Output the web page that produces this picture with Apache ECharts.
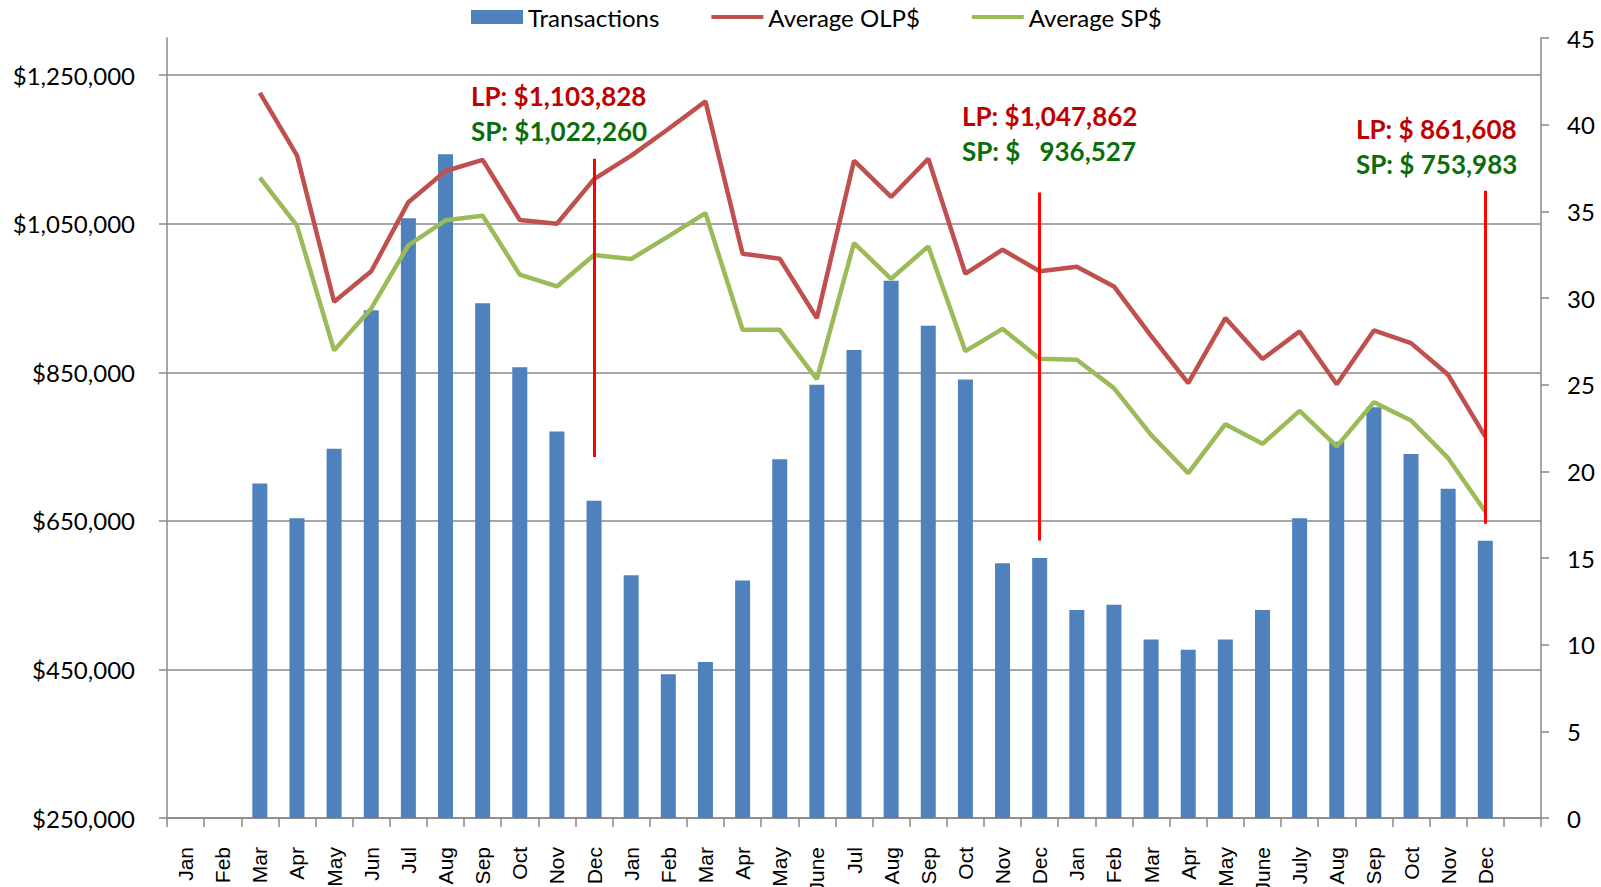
<!DOCTYPE html>
<html lang="en">
<head>
	<meta charset="UTF-8">
	<title>Transactions and average prices</title>
	<script type="text/javascript" src="https://cdn.jsdelivr.net/npm/echarts@6/dist/echarts.min.js"></script>
	<style>
		html, body { margin: 0; padding: 0; background: #fff; }
		#chart_show { width: 1601px; height: 887px; }
	</style>
</head>
<body>
	<div id="chart_show"></div>
	<script>
		// months, the last slot is left empty like in the original
		var months = ['Jan','Feb','Mar','Apr','May','Jun','Jul','Aug','Sep','Oct','Nov','Dec',
			'Jan','Feb','Mar','Apr','May','June','Jul','Aug','Sep','Oct','Nov','Dec',
			'Jan','Feb','Mar','Apr','May','June','July','Aug','Sep','Oct','Nov','Dec',''];

		var transactions = [null,null,19.3,17.3,21.3,29.3,34.6,38.3,29.7,26.0,22.3,18.3,
			14.0,8.3,9.0,13.7,20.7,25.0,27.0,31.0,28.4,25.3,14.7,15.0,
			12.0,12.3,10.3,9.7,10.3,12.0,17.3,21.7,23.7,21.0,19.0,16.0,null];

		var avgOLP = [null,null,1226000,1142000,945000,986000,1079000,1121000,1136000,1055000,1050000,1110000,
			1141600,1177500,1214700,1009600,1002900,922900,1134800,1086000,1137500,982700,1015000,986000,
			992000,965600,899000,835400,923000,867800,905000,834000,906300,889300,846600,763500,null];

		var avgSP = [null,null,1112000,1047500,879500,936000,1021000,1054600,1060800,981500,965600,1008000,
			1002500,1033000,1064300,907200,907200,840800,1024000,975900,1019500,878400,908500,868200,
			866800,828700,765800,714300,780200,753700,798100,750100,809800,785100,734400,662500,null];

		var leftTicks = [250000,450000,650000,850000,1050000,1250000];

		// year-end markers: category index, top and bottom value on the $ axis
		var markers = [
			{idx: 11, top: 1137500, bottom: 736000},
			{idx: 23, top: 1092000, bottom: 623500},
			{idx: 35, top: 1094400, bottom: 646000}
		];

		// yearly average notes
		var notes = [
			{lp: 'LP: $1,103,828', sp: 'SP: $1,022,260', x: 471, y: 99},
			{lp: 'LP: $1,047,862', sp: 'SP: $   936,527', x: 962, y: 119},
			{lp: 'LP: $ 861,608', sp: 'SP: $ 753,983', x: 1356, y: 132}
		];

		var gridGray = '#898989';
		var fontName = 'Lato';
		// flat bar used as legend icon for the two lines
		var lineIcon = 'path://M0,0 L52,0 L52,4 L0,4 Z';

		var oChart = echarts.init(document.getElementById('chart_show'), null, {renderer: 'svg'});

		var noteGraphics = [];
		notes.forEach(function (n) {
			noteGraphics.push({
				type: 'text', left: n.x, top: n.y - 16,
				style: {text: n.lp, fill: '#C00000', font: 'bold 26px ' + fontName}
			});
			noteGraphics.push({
				type: 'text', left: n.x, top: n.y + 19,
				style: {text: n.sp, fill: '#0A6E0A', font: 'bold 26px ' + fontName}
			});
		});

		var markLineData = markers.map(function (m) {
			return [{coord: [m.idx, m.top]}, {coord: [m.idx, m.bottom]}];
		});

		var chartopt = {
			animation: false,
			textStyle: {fontFamily: fontName},
			grid: {left: 167, right: 60, top: 38, bottom: 69, containLabel: false, outerBoundsMode: 'none'},
			legend: {
				left: 466,
				top: 0,
				itemWidth: 52,
				itemHeight: 14,
				itemGap: 52,
				textStyle: {fontSize: 24, color: '#000', fontFamily: fontName},
				data: [
					{name: 'Transactions', icon: 'rect'},
					{name: 'Average OLP$', icon: lineIcon},
					{name: 'Average SP$', icon: lineIcon}
				]
			},
			xAxis: [{
				type: 'category',
				data: months,
				boundaryGap: true,
				axisLine: {lineStyle: {color: gridGray, width: 1.5}},
				axisTick: {show: true, interval: 0, length: 9, lineStyle: {color: gridGray, width: 1.5}},
				axisLabel: {
					interval: 0, rotate: 90, margin: 29,
					fontSize: 21, color: '#000', fontFamily: 'Liberation Sans'
				}
			}],
			yAxis: [
				{
					type: 'value',
					min: 250000,
					max: 1300000,
					interval: 200000,
					axisLine: {show: true, lineStyle: {color: gridGray, width: 1.5}},
					axisTick: {show: true, length: 8, customValues: leftTicks, lineStyle: {color: gridGray, width: 1.5}},
					axisLabel: {
						margin: 32, fontSize: 24, color: '#000',
						customValues: leftTicks,
						formatter: function (v) { return '$' + v.toLocaleString('en-US'); }
					},
					splitLine: {show: true, lineStyle: {color: gridGray, width: 1.5}}
				},
				{
					type: 'value',
					min: 0,
					max: 45,
					interval: 5,
					position: 'right',
					axisLine: {show: true, lineStyle: {color: gridGray, width: 1.5}},
					axisTick: {show: true, length: 8, lineStyle: {color: gridGray, width: 1.5}},
					axisLabel: {margin: 26, fontSize: 24, color: '#000'},
					splitLine: {show: false}
				}
			],
			graphic: noteGraphics,
			series: [
				{
					name: 'Transactions',
					type: 'bar',
					yAxisIndex: 1,
					barWidth: 15,
					itemStyle: {color: '#4F81BD'},
					data: transactions
				},
				{
					name: 'Average OLP$',
					type: 'line',
					yAxisIndex: 0,
					symbol: 'none',
					lineStyle: {color: '#C0504D', width: 4.5},
					itemStyle: {color: '#C0504D'},
					data: avgOLP,
					markLine: {
						silent: true,
						symbol: ['none', 'none'],
						label: {show: false},
						lineStyle: {color: '#FF0000', width: 3, type: 'solid'},
						data: markLineData
					}
				},
				{
					name: 'Average SP$',
					type: 'line',
					yAxisIndex: 0,
					symbol: 'none',
					lineStyle: {color: '#9BBB59', width: 4.5},
					itemStyle: {color: '#9BBB59'},
					data: avgSP
				}
			]
		};

		oChart.setOption(chartopt);
	</script>
</body>
</html>
